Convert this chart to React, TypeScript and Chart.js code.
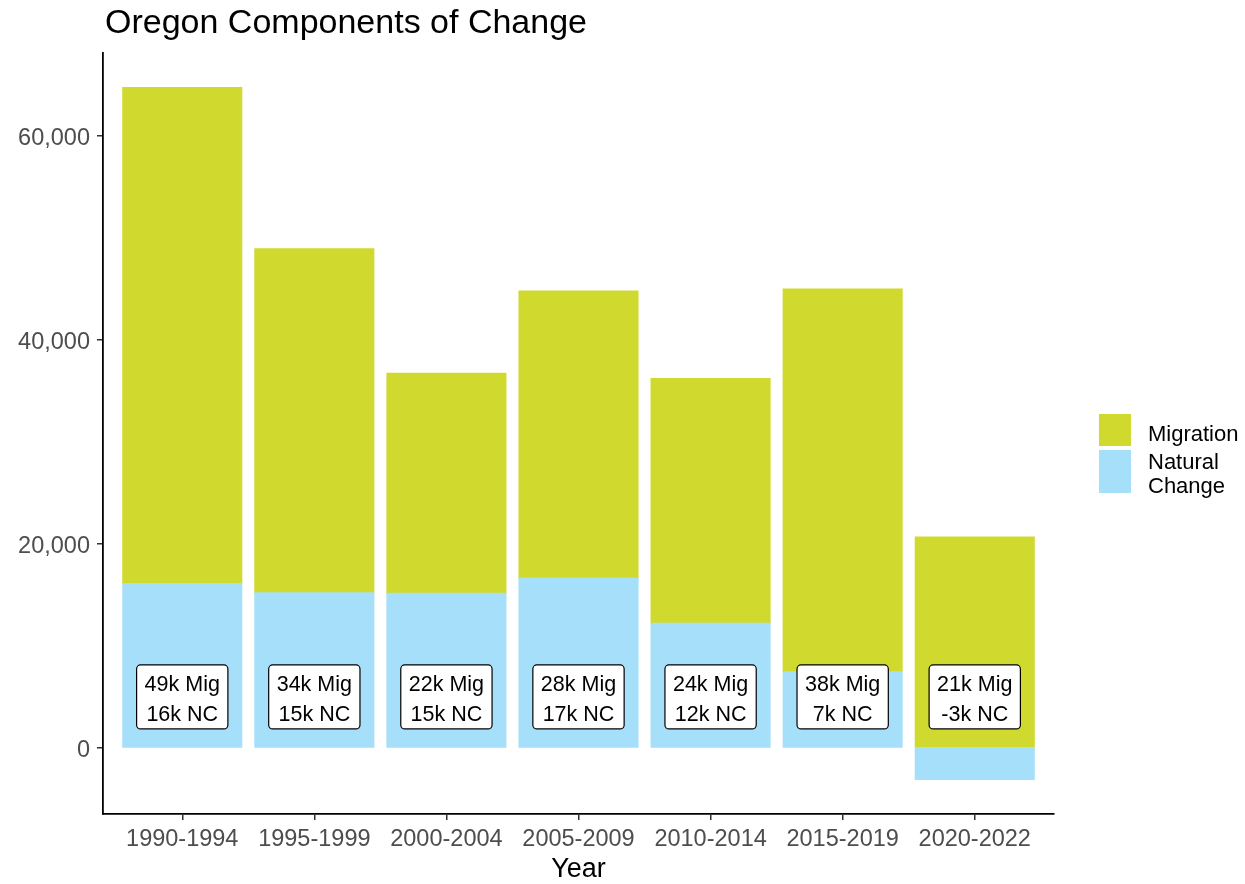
import React, { useEffect, useRef } from 'react';
import { Chart, registerables } from 'chart.js';

Chart.register(...registerables);

// ---- Data ----
const periods = ['1990-1994', '1995-1999', '2000-2004', '2005-2009', '2010-2014', '2015-2019', '2020-2022'];
const migration = [48600, 33700, 21550, 28100, 24000, 37500, 20650];
const naturalChange = [16100, 15200, 15150, 16650, 12200, 7450, -3080];
const yTickValues = [0, 20000, 40000, 60000];
const labelAnchorValue = 5000;
const legendLabels = [['Migration'], ['Natural', 'Change']];

const GREEN = '#D0D92E';
const BLUE = '#A6DFF9';
const FONT = '"Liberation Sans", Arial, Helvetica, sans-serif';
const TICK_COLOR = '#4D4D4D';

const totals = migration.map((m, i) => m + Math.max(naturalChange[i], 0));
const dataMin = Math.min(0, ...naturalChange);
const dataMax = Math.max(...totals);
const expand = (dataMax - dataMin) * 0.05;

const overlayPlugin = {
  id: 'overlay',
  afterDatasetsDraw(chart: any) {
    const { ctx, scales } = chart;
    const xs = scales.x;
    const ys = scales.y;
    ctx.save();
    // value labels
    ctx.font = `21.5px ${FONT}`;
    ctx.textAlign = 'center';
    ctx.textBaseline = 'alphabetic';
    periods.forEach((_, i) => {
      const l1 = `${Math.round(migration[i] / 1000)}k Mig`;
      const l2 = `${Math.round(naturalChange[i] / 1000)}k NC`;
      const cx = xs.getPixelForValue(i);
      const cy = ys.getPixelForValue(labelAnchorValue);
      const w = Math.max(ctx.measureText(l1).width, ctx.measureText(l2).width) + 16;
      const h = 64;
      ctx.beginPath();
      ctx.roundRect(cx - w / 2, cy - h / 2, w, h, 4);
      ctx.fillStyle = '#ffffff';
      ctx.fill();
      ctx.lineWidth = 1.2;
      ctx.strokeStyle = '#000000';
      ctx.stroke();
      ctx.fillStyle = '#000000';
      ctx.fillText(l1, cx, cy - 6);
      ctx.fillText(l2, cx, cy + 24.5);
    });
    ctx.restore();
  },
  afterDraw(chart: any) {
    const { ctx, chartArea } = chart;
    ctx.save();
    // title
    ctx.fillStyle = '#000000';
    ctx.textAlign = 'left';
    ctx.textBaseline = 'alphabetic';
    ctx.font = `34px ${FONT}`;
    ctx.fillText('Oregon Components of Change', chartArea.left + 2, 33);
    // x axis title
    ctx.font = `27px ${FONT}`;
    ctx.textAlign = 'center';
    ctx.fillText('Year', (chartArea.left + chartArea.right) / 2, chartArea.bottom + 63);
    // legend
    const keyX = chartArea.right + 45;
    const keys = [
      { color: GREEN, top: 414, h: 32, lines: legendLabels[0], baselines: [440.5] },
      { color: BLUE, top: 450, h: 43, lines: legendLabels[1], baselines: [469.3, 492.7] },
    ];
    ctx.font = `22px ${FONT}`;
    ctx.textAlign = 'left';
    keys.forEach((k) => {
      ctx.fillStyle = k.color;
      ctx.fillRect(keyX, k.top, 32, k.h);
      ctx.fillStyle = '#000000';
      k.lines.forEach((t, j) => ctx.fillText(t, keyX + 49, k.baselines[j]));
    });
    ctx.restore();
  },
};

export default function App() {
  const canvasRef = useRef<HTMLCanvasElement | null>(null);

  useEffect(() => {
    if (!canvasRef.current) return;
    const chart = new Chart(canvasRef.current, {
      type: 'bar',
      data: {
        datasets: [
          {
            label: 'Natural Change',
            data: naturalChange.map((v, i) => ({ x: i, y: v })),
            backgroundColor: BLUE,
            borderWidth: 0,
            inflateAmount: 0.6,
            barPercentage: 0.9,
            categoryPercentage: 1.0,
          },
          {
            label: 'Migration',
            data: migration.map((v, i) => ({ x: i, y: v })),
            backgroundColor: GREEN,
            borderWidth: 0,
            inflateAmount: 0.6,
            barPercentage: 0.9,
            categoryPercentage: 1.0,
          },
        ],
      },
      options: {
        animation: false,
        responsive: false,
        devicePixelRatio: 1,
        layout: { padding: { left: 0, right: 191, top: 53, bottom: 0 } },
        plugins: {
          legend: { display: false },
          tooltip: { enabled: false },
          title: { display: false },
        },
        scales: {
          x: {
            type: 'linear',
            stacked: true,
            offset: false,
            min: -0.6,
            max: periods.length - 1 + 0.6,
            afterBuildTicks: (axis: any) => {
              axis.ticks = periods.map((_, i) => ({ value: i }));
            },
            afterFit: (axis: any) => {
              axis.height = 70;
            },
            ticks: {
              callback: (v: any) => periods[v] ?? '',
              color: TICK_COLOR,
              font: { family: FONT, size: 23.5 },
              padding: 5,
              maxRotation: 0,
              autoSkip: false,
            },
            grid: {
              display: true,
              drawOnChartArea: false,
              drawTicks: true,
              tickLength: 6,
              color: '#333333',
              lineWidth: 1.5,
              offset: false,
            },
            border: { display: true, color: '#000000', width: 1.8 },
          },
          y: {
            type: 'linear',
            stacked: true,
            min: dataMin - expand,
            max: dataMax + expand,
            afterBuildTicks: (axis: any) => {
              axis.ticks = yTickValues.map((v) => ({ value: v }));
            },
            afterFit: (axis: any) => {
              axis.width = 103;
            },
            ticks: {
              callback: (v: any) => Number(v).toLocaleString('en-US'),
              color: TICK_COLOR,
              font: { family: FONT, size: 23.5 },
              padding: 7,
              labelOffset: 3,
            },
            grid: {
              display: true,
              drawOnChartArea: false,
              drawTicks: true,
              tickLength: 6,
              color: '#333333',
              lineWidth: 1.5,
            },
            border: { display: true, color: '#000000', width: 1.8 },
          },
        },
      },
      plugins: [overlayPlugin],
    } as any);
    return () => chart.destroy();
  }, []);

  return (
    <div style={{ position: 'absolute', left: 0, top: 0, width: 1245, height: 884, background: '#ffffff' }}>
      <canvas ref={canvasRef} width={1245} height={884} style={{ display: 'block' }} />
    </div>
  );
}
